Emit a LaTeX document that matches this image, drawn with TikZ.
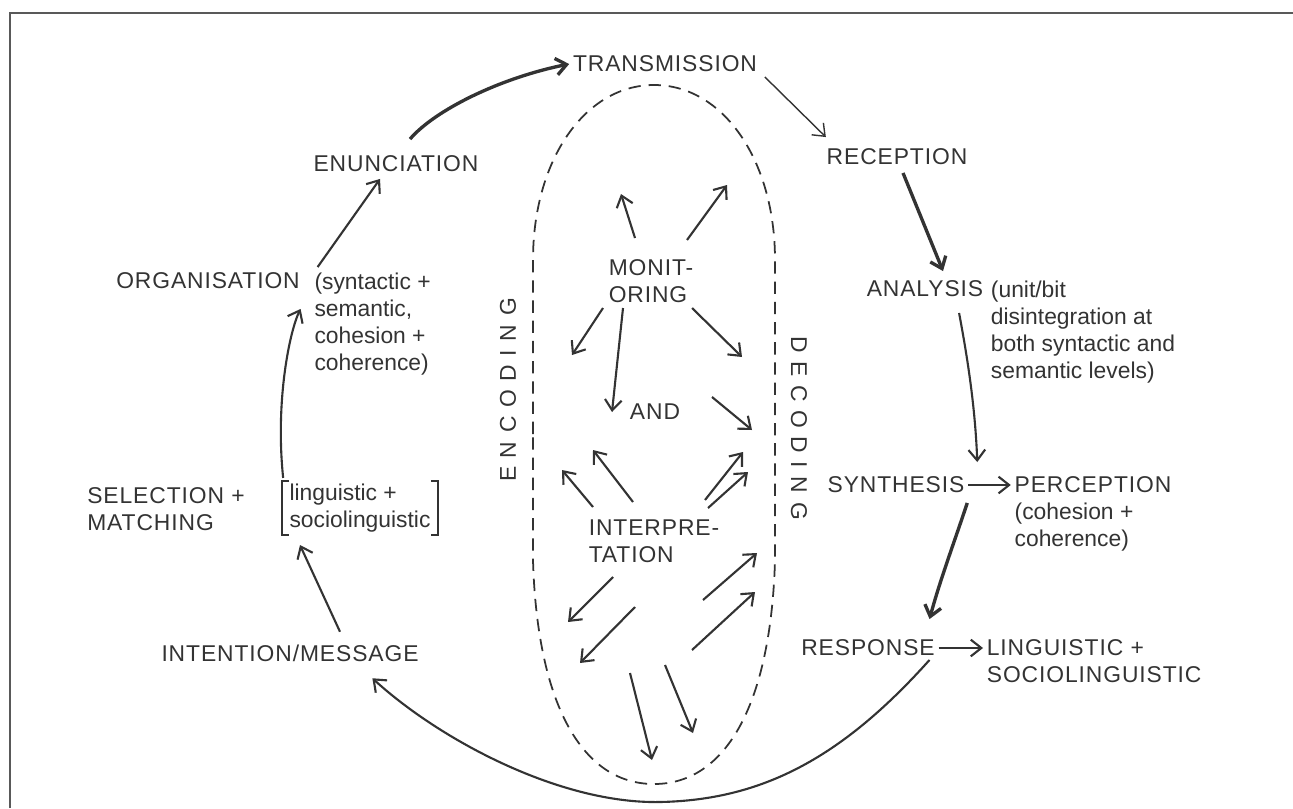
\documentclass[tikz,border=0pt]{standalone}
\usepackage{fontspec}
\setmainfont{Liberation Sans}
\newfontfamily\capsfont{Liberation Sans}[LetterSpace=4]
\newfontfamily\widefont{Liberation Sans}[LetterSpace=38]
\usetikzlibrary{arrows.meta,positioning}
\definecolor{ink}{HTML}{333333}
\tikzset{
    stage/.style={font=\capsfont\fontsize{13}{15.3}\selectfont,text=ink,inner sep=2pt,align=left},
    remark/.style={font=\fontsize{13}{15.3}\selectfont,text=ink,inner sep=2pt,align=left},
    spaced/.style={font=\widefont\fontsize{13}{15}\selectfont,text=ink,inner sep=0pt},
    flow/.style={draw=ink,line width=1.2pt,-{Straight Barb[length=6pt,width=9.5pt]}},
    thinflow/.style={flow,line width=0.8pt},
    boldflow/.style={flow,line width=1.9pt},
    oval/.style={draw=ink,line width=1pt,dash pattern=on 7pt off 4.5pt},
    brk/.style={draw=ink,line width=1pt},
    rim/.style={draw=black!65,line width=1.6pt}
}
\begin{document}
\begin{tikzpicture}[x=0.02cm,y=-0.02cm]
\useasboundingbox (0,0) rectangle (1293,808);
\draw[rim] (10,808)--(10,13)--(1293,13);
% encoding side
\node[stage] (trans) at (665,64) {TRANSMISSION};
\node[stage] (enun) at (396,164) {ENUNCIATION};
\node[stage] (orga) at (208,281) {ORGANISATION};
\node[remark,anchor=north west] (orgnote) at ([xshift=4pt]orga.north east) {(syntactic +\\semantic,\\cohesion +\\coherence)};
\node[stage] (selec) at (166,509) {SELECTION +\\MATCHING};
\node[remark,inner xsep=4pt,inner ysep=1.5pt] (ling) at (360,508) {linguistic +\\sociolinguistic};
\draw[brk] ([xshift=4pt]ling.north west)--(ling.north west)--(ling.south west)--([xshift=4pt]ling.south west);
\draw[brk] ([xshift=-4pt]ling.north east)--(ling.north east)--(ling.south east)--([xshift=-4pt]ling.south east);
\node[stage] (inten) at (290,653) {INTENTION/MESSAGE};
% decoding side
\node[stage] (recep) at (897,157) {RECEPTION};
\node[stage] (analy) at (925,289) {ANALYSIS};
\node[remark,anchor=north west] (analynote) at (analy.north east) {(unit/bit\\disintegration at\\both syntactic and\\semantic levels)};
\node[stage] (synth) at (896,485) {SYNTHESIS};
\node[stage] (perc) at (1093,485) {PERCEPTION};
\node[remark,anchor=north west] (percnote) at ([yshift=-1pt]perc.south west) {(cohesion +\\coherence)};
\node[stage] (resp) at (868,648) {RESPONSE};
\node[stage,anchor=west] (lingo) at (983,648) {LINGUISTIC +};
\node[stage,anchor=north west] (socio) at ([yshift=-1.5pt]lingo.south west) {SOCIOLINGUISTIC};
% middle
\draw[oval] (533,434)--(533,260) .. controls (533,160) and (585,85) .. (654,85)
    .. controls (723,85) and (775,160) .. (775,260)--(775,560)
    .. controls (771,700) and (728,784) .. (654,784)
    .. controls (580,784) and (537,700) .. (533,560)--cycle;
\node[stage] (mon) at (651,281) {MONIT-\\ORING};
\node[stage] (conj) at (655,412) {AND};
\node[stage] (interp) at (654,541) {INTERPRE-\\TATION};
\node[spaced,rotate=90] (enc) at (508,390) {ENCODING};
\node[spaced,rotate=-90] (dec) at (799,428) {DECODING};
\foreach \ax/\ay/\bx/\by in {635/238/621/194, 687/240/727/185, 603/308/572/355,
    623/308/612/412, 692/308/742/357, 712/397/752/430, 593/507/562/470,
    633/502/593/450, 705/500/743/452, 708/508/748/472, 613/577/568/622,
    635/607/580/663, 630/673/652/760, 665/665/693/733, 703/600/757/553,
    692/650/755/592}
    \draw[flow] (\ax,\ay)--(\bx,\by);
% cycle
\draw[boldflow] ([shift={(14,-13)}]enun.north) .. controls (435,110) and (500,78) .. (trans.west);
\draw[thinflow] ([shift={(4,1)}]trans.south east)--([shift={(3,-8)}]recep.north west);
\draw[boldflow] ([shift={(6,4)}]recep.south)--([shift={(18,-6)}]analy.north);
\draw[flow] ([shift={(-28,12)}]analy.south east) .. controls (965,345) and (975,400) .. ([shift={(9,-11)}]synth.north east);
\draw[flow] (synth.east)--(perc.west);
\draw[boldflow] ([shift={(-1,6)}]synth.south east) .. controls (955,540) and (940,580) .. ([shift={(-9,-17)}]resp.north east);
\draw[flow] (resp.east)--(lingo.west);
\draw[flow] ([xshift=35]resp.south) .. controls (840,760) and (760,800) .. (660,802)
    .. controls (560,804) and (440,740) .. ([shift={(-50,13)}]inten.south east);
\draw[flow] ([shift={(50,-9)}]inten.north)--([shift={(-60,10)}]ling.south);
\draw[flow] ([shift={(1,-3)}]ling.north west) .. controls (275,400) and (290,330) .. ([shift={(-3,16)}]orga.south east);
\draw[flow] ([shift={(14,-2)}]orga.north east)--([shift={(-16,3)}]enun.south);
\end{tikzpicture}
\end{document}
